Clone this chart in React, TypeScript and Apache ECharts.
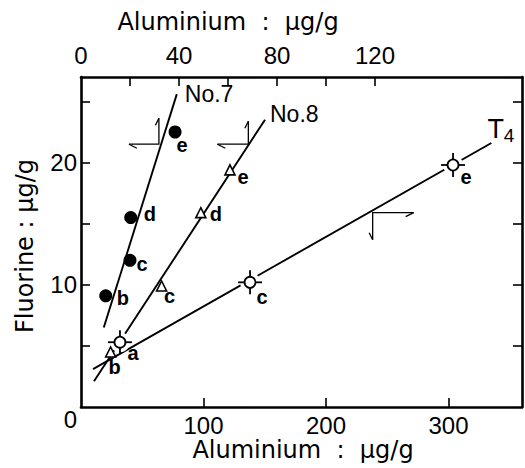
import React, { useEffect, useRef } from 'react';
import * as echarts from 'echarts';

// ---------- data ----------
// Axis ranges
const bottomAlRange = [0, 360];
const topAlRange = [0, 180];
const fluorineRange = [0, 27];

// Tick values / tick labels
const bottomTicks = [100, 200, 300];
const bottomTickLabels = [100, 200, 300];
const topTicks = [20, 40, 60, 80, 100, 120];
const topTickLabels = [0, 40, 80, 120];
const yTicks = [5, 10, 15, 20, 25];
const yTickLabels = [0, 10, 20];

// No.7 (filled circles, top aluminium scale)
const no7Labels = ['b', 'c', 'd', 'e'];
const no7Al = [10.1, 20.0, 20.3, 38.4];
const no7F = [9.1, 12.0, 15.5, 22.5];
const no7FitAl = [9.3, 39.1];
const no7FitF = [6.5, 25.6];

// No.8 (open triangles, top aluminium scale)
const no8Labels = ['b', 'c', 'd', 'e'];
const no8Al = [12.1, 32.9, 48.9, 60.8];
const no8F = [4.5, 9.9, 15.9, 19.4];
const no8FitAl = [5.3, 75.1];
const no8FitF = [2.1, 23.5];

// T4 (open circles with cross, bottom aluminium scale)
const t4Labels = ['a', 'c', 'e'];
const t4Al = [31.8, 138, 303.7];
const t4F = [5.3, 10.2, 19.8];
const t4FitAl = [9.8, 335];
const t4FitF = [3.1, 21.6];

// Axis-indicator arrows (corner points)
const arrowTopAl = [31.8, 68.3];
const arrowTopF = [21.5, 21.5];
const arrowBotAl = [238.1];
const arrowBotF = [15.9];

// ---------- styles / positions ----------
const NUM_FONT = "'Liberation Sans', Arial, sans-serif";
const TITLE_FONT = "'DejaVu Sans', sans-serif";
const no7Offsets = [[17, 2], [12, 4], [19, -4], [7, 13]];
const no8Offsets = [[4, 15], [8, 10], [15, 1], [13, 7]];
const t4Offsets = [[13, 11], [12, 15], [13, 12]];
const arrowTopShapes = [{ hx: -30, vy: -26 }, { hx: -31, vy: -23 }];
const arrowBotShapes = [{ hx: 41, vy: 27 }];

const zip = (a: number[], b: number[]) => a.map((v, i) => [v, b[i]]);

const axisLineStyle = { color: '#000', width: 2.6 };
const tickLine = { color: '#000', width: 1.6 };
const labelBase = { color: '#000', fontFamily: NUM_FONT, fontSize: 24 };

function arrowRender(shapes: { hx: number; vy: number }[]) {
  return (params: any, api: any) => {
    const p = api.coord([api.value(0), api.value(1)]);
    const s = shapes[params.dataIndex];
    const hx = p[0] + s.hx;
    const vy = p[1] + s.vy;
    const st = { stroke: '#000', lineWidth: 1.3, fill: 'none' };
    return {
      type: 'group',
      children: [
        { type: 'polyline', shape: { points: [[hx, p[1]], [p[0], p[1]], [p[0], vy]] }, style: st },
        { type: 'line', shape: { x1: hx, y1: p[1], x2: hx - Math.sign(s.hx) * 8, y2: p[1] + 4 }, style: st },
        { type: 'line', shape: { x1: p[0], y1: vy, x2: p[0] - 3.5, y2: vy - Math.sign(s.vy) * 7 }, style: st },
      ],
    };
  };
}

function t4Render(params: any, api: any) {
  const p = api.coord([api.value(0), api.value(1)]);
  const st = { stroke: '#000', lineWidth: 1.8 };
  const off = t4Offsets[params.dataIndex];
  return {
    type: 'group',
    children: [
      { type: 'circle', shape: { cx: p[0], cy: p[1], r: 10 }, style: { fill: '#fff' } },
      { type: 'line', shape: { x1: p[0] - 12, y1: p[1], x2: p[0] + 12, y2: p[1] }, style: st },
      { type: 'line', shape: { x1: p[0], y1: p[1] - 12, x2: p[0], y2: p[1] + 12 }, style: st },
      { type: 'circle', shape: { cx: p[0], cy: p[1], r: 5.5 }, style: { fill: '#fff', stroke: '#000', lineWidth: 1.8 } },
      {
        type: 'text', x: p[0] + off[0], y: p[1] + off[1],
        style: { text: t4Labels[params.dataIndex], fill: '#000', fontFamily: NUM_FONT, fontSize: 20, fontWeight: 'bold', align: 'center', verticalAlign: 'middle' },
      },
    ],
  };
}

const pointLabel = {
  show: true,
  position: 'inside',
  formatter: (p: any) => p.name,
  color: '#000',
  fontFamily: NUM_FONT,
  fontSize: 20,
  fontWeight: 'bold',
};

export default function App() {
  const ref = useRef<HTMLDivElement>(null);
  useEffect(() => {
    const chart = echarts.init(ref.current!, null, { renderer: 'svg' });
    const option: any = {
      animation: false,
      backgroundColor: '#fff',
      grid: { left: 81, right: 3, top: 77, bottom: 61, containLabel: false },
      xAxis: [
        {
          type: 'value', position: 'bottom', min: bottomAlRange[0], max: bottomAlRange[1], interval: 100,
          axisLine: { show: true, onZero: false, lineStyle: axisLineStyle },
          axisTick: { show: true, inside: true, length: 9, lineStyle: tickLine, customValues: bottomTicks },
          axisLabel: {
            ...labelBase, margin: 6, customValues: bottomTickLabels,
            formatter: (v: number) => (bottomTickLabels.includes(v) ? String(v) : ''),
          },
          splitLine: { show: false },
        },
        {
          type: 'value', position: 'top', min: topAlRange[0], max: topAlRange[1], interval: 20,
          axisLine: { show: true, onZero: false, lineStyle: axisLineStyle },
          axisTick: { show: true, inside: true, length: 9, lineStyle: tickLine, customValues: topTicks },
          axisLabel: {
            ...labelBase, margin: 10, customValues: topTickLabels,
            formatter: (v: number) => (topTickLabels.includes(v) ? String(v) : ''),
          },
          splitLine: { show: false },
        },
      ],
      yAxis: [
        {
          type: 'value', position: 'left', min: fluorineRange[0], max: fluorineRange[1], interval: 5,
          axisLine: { show: true, onZero: false, lineStyle: axisLineStyle },
          axisTick: { show: true, inside: true, length: 9, lineStyle: tickLine, customValues: yTicks },
          axisLabel: {
            ...labelBase, margin: 4, customValues: yTickLabels,
            formatter: (v: number) => (v === 0 ? '{z|0}' : yTickLabels.includes(v) ? String(v) : ''),
            rich: { z: { ...labelBase, padding: [24, 0, 0, 0] } },
          },
          splitLine: { show: false },
        },
        {
          type: 'value', position: 'right', min: fluorineRange[0], max: fluorineRange[1], interval: 5,
          axisLine: { show: true, onZero: false, lineStyle: axisLineStyle },
          axisTick: { show: true, inside: true, length: 9, lineStyle: tickLine, customValues: yTicks },
          axisLabel: { show: false },
          splitLine: { show: false },
        },
      ],
      graphic: [
        { type: 'text', x: 228, y: 22, style: { text: 'Aluminium  :  µg/g', fontSize: 24, fontFamily: TITLE_FONT, fill: '#000', align: 'center', verticalAlign: 'middle' } },
        { type: 'text', x: 303, y: 450, style: { text: 'Aluminium  :  µg/g', fontSize: 24, fontFamily: TITLE_FONT, fill: '#000', align: 'center', verticalAlign: 'middle' } },
        { type: 'text', x: 25, y: 246, rotation: Math.PI / 2, style: { text: 'Fluorine : µg/g', fontSize: 24, fontFamily: TITLE_FONT, fill: '#000', align: 'center', verticalAlign: 'middle' } },
      ],
      series: [
        {
          type: 'line', name: 'No.7 fit', xAxisIndex: 1, yAxisIndex: 0, data: zip(no7FitAl, no7FitF), symbol: 'none',
          lineStyle: { color: '#000', width: 1.9 }, silent: true, z: 2,
          endLabel: { show: true, formatter: 'No.7', distance: 0, offset: [8, 0], color: '#000', fontFamily: NUM_FONT, fontSize: 23 },
        },
        {
          type: 'line', name: 'No.8 fit', xAxisIndex: 1, yAxisIndex: 0, data: zip(no8FitAl, no8FitF), symbol: 'none',
          lineStyle: { color: '#000', width: 1.9 }, silent: true, z: 2,
          endLabel: { show: true, formatter: 'No.8', distance: 0, offset: [5, -6], color: '#000', fontFamily: NUM_FONT, fontSize: 23 },
        },
        {
          type: 'line', name: 'T4 fit', xAxisIndex: 0, yAxisIndex: 0, data: zip(t4FitAl, t4FitF), symbol: 'none',
          lineStyle: { color: '#000', width: 1.9 }, silent: true, z: 2,
          endLabel: {
            show: true, formatter: '{t|T}{s|4}', distance: 0, offset: [-4, -14],
            rich: {
              t: { color: '#000', fontFamily: NUM_FONT, fontSize: 27 },
              s: { color: '#000', fontFamily: NUM_FONT, fontSize: 19, padding: [12, 0, 0, 0] },
            },
          },
        },
        {
          type: 'custom', name: 'T4', xAxisIndex: 0, yAxisIndex: 0, renderItem: t4Render, z: 3,
          data: zip(t4Al, t4F), silent: true,
        },
        {
          type: 'scatter', name: 'No.7', xAxisIndex: 1, yAxisIndex: 0, symbol: 'circle', symbolSize: 13, z: 3,
          itemStyle: { color: '#000', opacity: 1 },
          data: no7Al.map((x, i) => ({ value: [x, no7F[i]], name: no7Labels[i], label: { offset: no7Offsets[i] } })),
          label: pointLabel,
        },
        {
          type: 'scatter', name: 'No.8', xAxisIndex: 1, yAxisIndex: 0, symbol: 'triangle', symbolSize: 10, z: 3,
          itemStyle: { color: '#fff', borderColor: '#000', borderWidth: 1.6, opacity: 1 },
          data: no8Al.map((x, i) => ({ value: [x, no8F[i]], name: no8Labels[i], label: { offset: no8Offsets[i] } })),
          label: pointLabel,
        },
        {
          type: 'custom', name: 'arrows top', xAxisIndex: 1, yAxisIndex: 0, renderItem: arrowRender(arrowTopShapes), z: 2,
          data: zip(arrowTopAl, arrowTopF), silent: true,
        },
        {
          type: 'custom', name: 'arrows bottom', xAxisIndex: 0, yAxisIndex: 0, renderItem: arrowRender(arrowBotShapes), z: 2,
          data: zip(arrowBotAl, arrowBotF), silent: true,
        },
      ],
    };
    chart.setOption(option);
    return () => chart.dispose();
  }, []);
  return (
    <div
      ref={ref}
      style={{ position: 'fixed', left: 0, top: 0, width: 525, height: 468, background: '#fff' }}
    />
  );
}
